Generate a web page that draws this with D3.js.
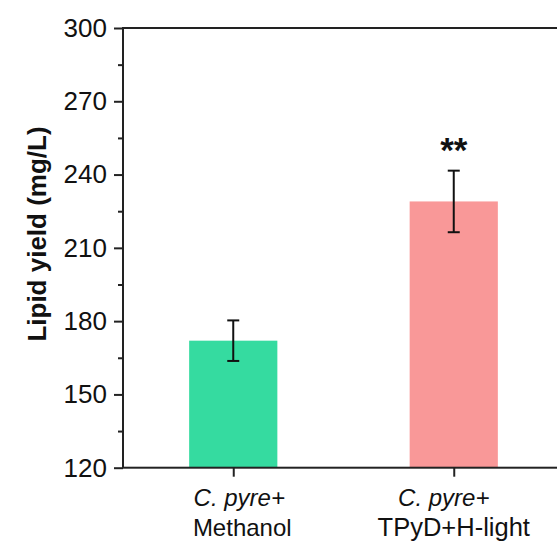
<!DOCTYPE html>
<html>
<head>
<meta charset="utf-8">
<script src="https://cdnjs.cloudflare.com/ajax/libs/d3/7.8.5/d3.min.js"></script>
<style>
body { margin: 0; background: #fff; }
text { font-family: Arial, "Liberation Sans", sans-serif; fill: #111; }
</style>
</head>
<body>
<div id="chart"></div>
<script>
// data
var categories = ["Methanol", "TPyD+H-light"];
var means = [172, 229];
var errors = [8.3, 12.6];
var marks = ["", "**"];
var colors = ["#35DBA0", "#F99898"];
var yTicks = [120, 150, 180, 210, 240, 270, 300];
var yMinor = [135, 165, 195, 225, 255, 285];

var W = 557, H = 541;
var plotL = 123, plotT = 28, plotB = 467.7, plotR = 564;
// label lines sit a little off the tick in the original
var shift1 = [6, -10], shift2 = [9, 0];

var svg = d3.select("#chart")
    .append("svg")
    .attr("width", W)
    .attr("height", H);

var x = d3.scaleLinear()
    .domain([0.5, 2.5])
    .range([plotL, plotR]);

var y = d3.scaleLinear()
    .domain([120, 300])
    .range([plotB, plotT]);

var barW = (x(2) - x(1)) * 0.4;

// bars
svg.selectAll(".bar")
    .data(means)
    .enter()
    .append("rect")
    .attr("class", "bar")
    .attr("x", function(d, i) { return x(i + 1) - barW / 2; })
    .attr("width", barW)
    .attr("y", function(d) { return y(d); })
    .attr("height", function(d) { return y(120) - y(d); })
    .attr("fill", function(d, i) { return colors[i]; });

// error bars
var eb = svg.selectAll(".err")
    .data(means)
    .enter()
    .append("g")
    .attr("class", "err")
    .attr("stroke", "#111")
    .attr("stroke-width", 2);

eb.append("line")
    .attr("x1", function(d, i) { return x(i + 1); })
    .attr("x2", function(d, i) { return x(i + 1); })
    .attr("y1", function(d, i) { return y(d + errors[i]); })
    .attr("y2", function(d, i) { return y(d - errors[i]); });
eb.append("line")
    .attr("x1", function(d, i) { return x(i + 1) - 6; })
    .attr("x2", function(d, i) { return x(i + 1) + 6; })
    .attr("y1", function(d, i) { return y(d + errors[i]); })
    .attr("y2", function(d, i) { return y(d + errors[i]); });
eb.append("line")
    .attr("x1", function(d, i) { return x(i + 1) - 6; })
    .attr("x2", function(d, i) { return x(i + 1) + 6; })
    .attr("y1", function(d, i) { return y(d - errors[i]); })
    .attr("y2", function(d, i) { return y(d - errors[i]); });

// significance marks
svg.selectAll(".sig")
    .data(marks)
    .enter()
    .append("text")
    .attr("class", "sig")
    .attr("x", function(d, i) { return x(i + 1); })
    .attr("y", function(d, i) { return y(means[i] + errors[i]) - 9; })
    .attr("text-anchor", "middle")
    .style("font-size", "35px")
    .style("font-weight", "bold")
    .text(function(d) { return d; });

// frame
svg.append("rect")
    .attr("x", plotL)
    .attr("y", plotT)
    .attr("width", plotR - plotL)
    .attr("height", plotB - plotT)
    .attr("fill", "none")
    .attr("stroke", "#222")
    .attr("stroke-width", 2);

// y axis
var yAxis = svg.append("g")
    .attr("transform", "translate(" + plotL + ",0)")
    .call(d3.axisLeft(y).tickValues(yTicks).tickSize(9).tickPadding(7).tickSizeOuter(0));
yAxis.select(".domain").remove();
yAxis.selectAll("line").attr("stroke", "#222").attr("stroke-width", 2);
yAxis.selectAll("text")
    .style("font-size", "26px")
    .style("font-family", "Arial, 'Liberation Sans', sans-serif")
    .attr("fill", "#111");

var yMinorAxis = svg.append("g")
    .attr("transform", "translate(" + plotL + ",0)")
    .call(d3.axisLeft(y).tickValues(yMinor).tickSize(5).tickFormat(""));
yMinorAxis.select(".domain").remove();
yMinorAxis.selectAll("line").attr("stroke", "#222").attr("stroke-width", 2);

// x axis ticks
var xAxis = svg.append("g")
    .attr("transform", "translate(0," + plotB + ")")
    .call(d3.axisBottom(x).tickValues([1, 2]).tickSize(9).tickFormat(""));
xAxis.select(".domain").remove();
xAxis.selectAll("line").attr("stroke", "#222").attr("stroke-width", 2);

// category labels
var lab = svg.selectAll(".cat")
    .data(categories)
    .enter()
    .append("text")
    .attr("class", "cat")
    .attr("text-anchor", "middle")
    .style("font-size", "24px");
lab.append("tspan")
    .attr("x", function(d, i) { return x(i + 1) + shift1[i]; })
    .attr("y", 506)
    .style("font-style", "italic")
    .text("C. pyre+");
lab.append("tspan")
    .attr("x", function(d, i) { return x(i + 1) + shift2[i]; })
    .attr("y", 536)
    .style("font-size", function(d, i) { return i == 1 ? "25.5px" : "24px"; })
    .text(function(d) { return d; });

// y label
svg.append("text")
    .attr("transform", "translate(46,234) rotate(-90)")
    .attr("text-anchor", "middle")
    .style("font-size", "26px")
    .style("font-weight", "bold")
    .text("Lipid yield (mg/L)");
</script>
</body>
</html>
